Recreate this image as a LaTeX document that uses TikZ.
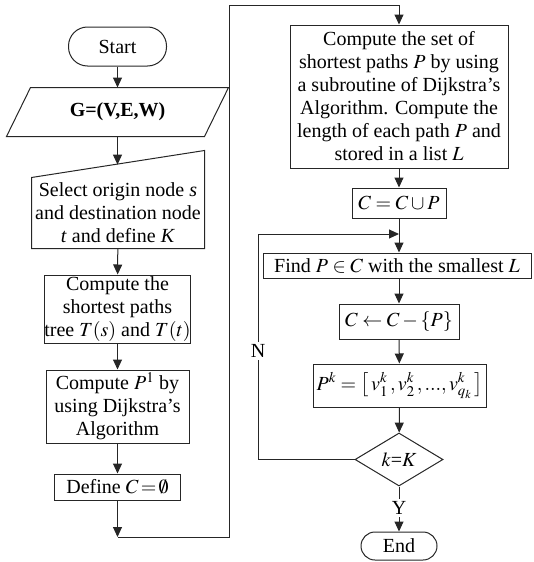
\documentclass[tikz,border=0pt]{standalone}
\usepackage{mathptmx}
\usepackage{fontspec}
\setmainfont{Liberation Serif}
\usetikzlibrary{arrows.meta,shapes.geometric,calc}
\begin{document}
\begin{tikzpicture}[x=1pt,y=-1pt,line width=1pt,
  font=\fontsize{20}{23}\selectfont,
  every node/.style={inner sep=0pt, text=black},
  ln/.style={draw=black!85},
  box/.style={draw=black!85, align=center},
  term/.style={draw=black!85, align=center},
  arr/.style={draw=black!85, -{Triangle[length=10pt,width=9pt]}},
  lbl/.style={fill=white, inner ysep=2pt}]
\useasboundingbox (0,0) rectangle (533,562);
% left column
\node[term, rounded corners=19pt, minimum width=98pt, minimum height=39pt] (start) at (117.5,46.5) {Start};
\node[minimum width=221pt, minimum height=48pt] (par) at (117.5,112) {\textbf{G=(V,E,W)}};
\draw[ln] ($(par.north west)+(24,0)$) -- (par.north east) -- ($(par.south east)+(-24,0)$) -- (par.south west) -- cycle;
\node[minimum width=172pt, minimum height=97pt] (sel) at (118,199.5) {};
\draw[ln] (sel.south west) -- ($(sel.north west)+(0,27)$) -- (sel.north east) -- (sel.south east) -- cycle;
\node[align=center] (selt) at (118,213) {Select origin node \textit{s}\\and destination node\\\textit{t} and define \textit{K}};
\coordinate (selin) at (117.5,164.6);
\node[box, minimum width=143pt, minimum height=68pt] (tree) at (117.5,309) {Compute the\\shortest paths\\tree $T(s)$ and $T(t)$};
\node[box, minimum width=143pt, minimum height=73pt] (dij) at (117.5,406.5) {Compute $P^1$ by\\using Dijkstra’s\\Algorithm};
\node[box, minimum width=126pt, minimum height=26pt] (def) at (117.5,487) {Define $C\mskip-2mu=\mskip-2mu\emptyset$};
\coordinate (c1) at (117.5,537);
\coordinate (c2) at (229,537);
\coordinate (c4) at (399,5);
% right column
\node[box, minimum width=218pt, minimum height=143pt] (sp) at (399,96.5) {Compute the set of\\shortest paths $P$ by using\\a subroutine of Dijkstra’s\\Algorithm. Compute the\\length of each path $P$ and\\stored in a list $L$};
\node[box, minimum width=94pt, minimum height=30pt] (cup) at (399,203) {$C=C\cup P$};
\node[box, minimum width=268pt, minimum height=25pt] (find) at (397,265.5) {Find $P\in C$ with the smallest $L$};
\node[box, minimum width=120pt, minimum height=35pt] (rem) at (399,321.5) {$C\leftarrow C-\left\{P\right\}$};
\node[box, minimum width=173pt, minimum height=43pt] (pk) at (399.5,385.5) {$P^k=\left[\,v_1^k\,,v_2^k\,,...,v_{q_k}^k\,\right]$};
\node[draw=black!85, diamond, minimum width=88pt, minimum height=53pt] (dec) at (399,459.5) {$k$=$K$};
\node[term, rounded corners=14pt, minimum width=76pt, minimum height=28pt] (end) at (399,546) {End};
\coordinate (lp) at (258,459.5);
\coordinate (jn) at (399,234);
% connectors
\draw[arr] (start) -- (par);
\draw[arr] (par.south) -- (selin);
\draw[arr] (sel) -- (tree);
\draw[arr] (tree) -- (dij);
\draw[arr] (dij) -- (def);
\draw[arr] (def) -- (c1);
\draw[arr] (c1) -- (c2) |- (c4) -- (sp.north);
\draw[arr] (sp) -- (cup);
\draw[arr] (cup.south) -- (cup.south |- find.north);
\draw[arr] (dec.west) -- (lp) |- (jn);
\draw[arr] (rem.north |- find.south) -- (rem.north);
\draw[arr] (rem) -- (pk);
\draw[arr] (pk) -- (dec);
\draw[arr] (dec) -- (end);
\node[lbl] (nlab) at (258,351) {N};
\node[lbl] (ylab) at (399,508) {Y};
\end{tikzpicture}
\end{document}
